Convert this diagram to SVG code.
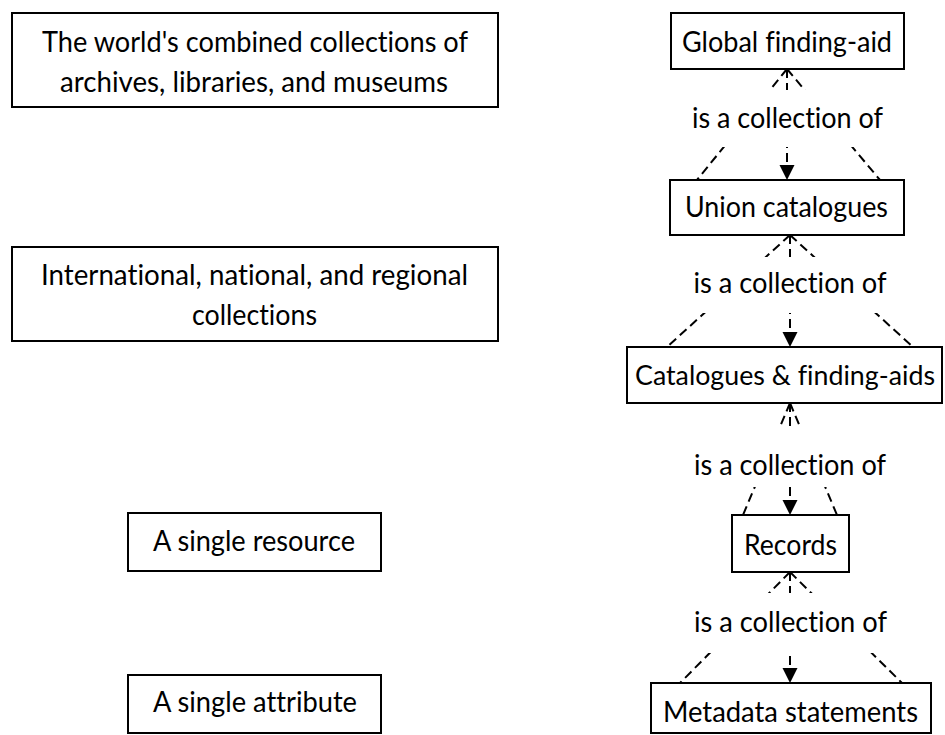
<svg xmlns="http://www.w3.org/2000/svg" width="945" height="735" viewBox="0 0 945 735">
<style>
  .box { fill: #fff; stroke: #000; stroke-width: 2; }
  .lbl { fill: #fff; stroke: none; }
  text { font-family: "Lato", "Open Sans", sans-serif; font-size: 28.5px; fill: #000; text-anchor: middle; font-variant-ligatures: none; }
  .dash { stroke: #000; stroke-width: 2; stroke-dasharray: 9 5; fill: none; }
</style>
<defs>
  <marker id="arrow" markerUnits="userSpaceOnUse" markerWidth="16" markerHeight="16" refX="15" refY="7.5" orient="auto">
    <path d="M0,0 L15,7.5 L0,15 z" fill="#000"/>
  </marker>
</defs>

<g id="levels">
  <g id="level-world">
    <rect class="box" x="12" y="13" width="486" height="94"/>
    <text x="255" y="52" textLength="426" lengthAdjust="spacingAndGlyphs">The world's combined collections of</text>
    <text x="254" y="92" textLength="388" lengthAdjust="spacingAndGlyphs">archives, libraries, and museums</text>
  </g>
  <g id="level-regional">
    <rect class="box" x="12" y="247" width="486" height="94"/>
    <text x="254.5" y="285" textLength="427" lengthAdjust="spacingAndGlyphs">International, national, and regional</text>
    <text x="254.5" y="325" textLength="125" lengthAdjust="spacingAndGlyphs">collections</text>
  </g>
  <g id="level-resource">
    <rect class="box" x="128" y="513" width="253" height="58"/>
    <text x="254" y="551" textLength="202" lengthAdjust="spacingAndGlyphs">A single resource</text>
  </g>
  <g id="level-attribute">
    <rect class="box" x="128" y="675" width="253" height="58"/>
    <text x="255" y="712" textLength="204" lengthAdjust="spacingAndGlyphs">A single attribute</text>
  </g>
</g>

<g id="connectors">
  <line class="dash" x1="787" y1="69" x2="697" y2="180"/>
  <line class="dash" x1="787" y1="69" x2="787" y2="180" marker-end="url(#arrow)"/>
  <line class="dash" x1="787" y1="69" x2="880" y2="180"/>

  <line class="dash" x1="790" y1="235" x2="667" y2="347"/>
  <line class="dash" x1="790" y1="235" x2="790" y2="347" marker-end="url(#arrow)"/>
  <line class="dash" x1="790" y1="235" x2="913" y2="347"/>

  <line class="dash" x1="790" y1="403" x2="743" y2="515"/>
  <line class="dash" x1="790" y1="403" x2="790" y2="515" marker-end="url(#arrow)"/>
  <line class="dash" x1="790" y1="403" x2="837" y2="515"/>

  <line class="dash" x1="790" y1="572" x2="680" y2="683"/>
  <line class="dash" x1="790" y1="572" x2="790" y2="683" marker-end="url(#arrow)"/>
  <line class="dash" x1="790" y1="572" x2="902" y2="683"/>
</g>

<g id="link-labels">
  <g id="label-1">
    <rect class="lbl" x="686" y="90" width="204" height="57"/>
    <text x="787.5" y="128" textLength="191" lengthAdjust="spacingAndGlyphs">is a collection of</text>
  </g>
  <g id="label-2">
    <rect class="lbl" x="688" y="257" width="204" height="56"/>
    <text x="790" y="293" textLength="193" lengthAdjust="spacingAndGlyphs">is a collection of</text>
  </g>
  <g id="label-3">
    <rect class="lbl" x="688" y="428" width="204" height="59"/>
    <text x="790" y="475" textLength="192" lengthAdjust="spacingAndGlyphs">is a collection of</text>
  </g>
  <g id="label-4">
    <rect class="lbl" x="688" y="593" width="204" height="60"/>
    <text x="790.5" y="632" textLength="193" lengthAdjust="spacingAndGlyphs">is a collection of</text>
  </g>
</g>

<g id="nodes">
  <g id="node-global">
    <rect class="box" x="671" y="13" width="233" height="56"/>
    <text x="787" y="52" textLength="210" lengthAdjust="spacingAndGlyphs">Global finding-aid</text>
  </g>
  <g id="node-union">
    <rect class="box" x="670" y="180" width="234" height="55"/>
    <text x="786.5" y="217" textLength="203" lengthAdjust="spacingAndGlyphs">Union catalogues</text>
  </g>
  <g id="node-catalogues">
    <rect class="box" x="627" y="347" width="315" height="56"/>
    <text x="785" y="385" style="font-size:27px" textLength="300" lengthAdjust="spacingAndGlyphs">Catalogues &amp; finding-aids</text>
  </g>
  <g id="node-records">
    <rect class="box" x="732" y="515" width="117" height="57"/>
    <text x="790.5" y="555" textLength="93" lengthAdjust="spacingAndGlyphs">Records</text>
  </g>
  <g id="node-metadata">
    <rect class="box" x="651" y="683" width="280" height="50"/>
    <text x="790.5" y="722" textLength="255" lengthAdjust="spacingAndGlyphs">Metadata statements</text>
  </g>
</g>
</svg>
